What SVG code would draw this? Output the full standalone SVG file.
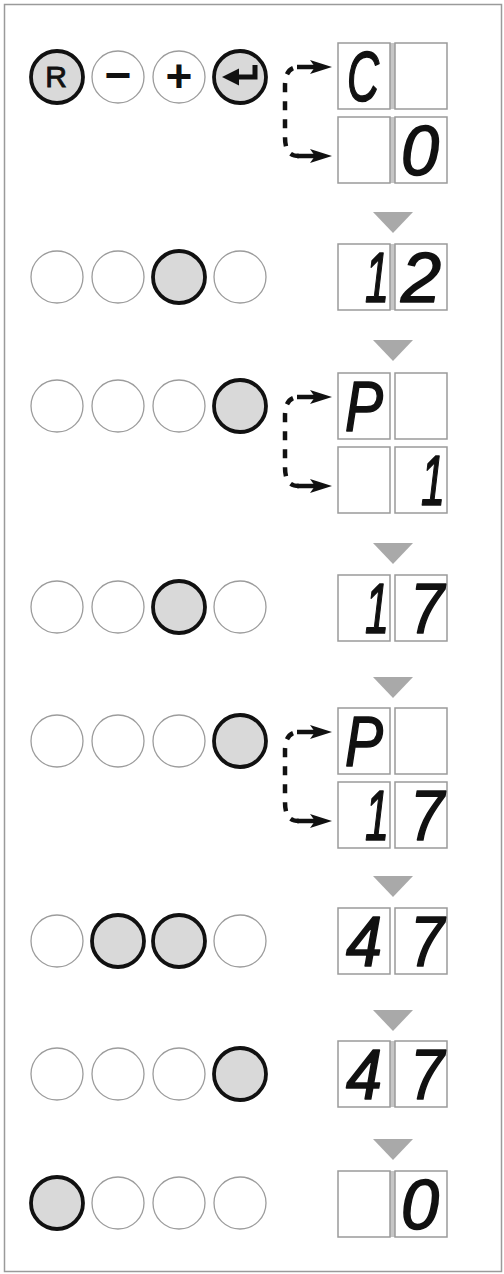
<svg xmlns="http://www.w3.org/2000/svg" width="504" height="1274" viewBox="0 0 504 1274">
<style>
.frame{fill:#fff;stroke:#9a9a9a;stroke-width:1.5}
.off{fill:#fff;stroke:#9c9c9c;stroke-width:1.3}
.on{fill:#d9d9d9;stroke:#111;stroke-width:3.8}
.box{fill:#fff;stroke:#9a9a9a;stroke-width:1.5}
.gap{fill:#c6c6c6}
.tri{fill:#a9a9a9}
.dig{font-family:"Liberation Sans",Arial,sans-serif;font-style:italic;font-size:70px;fill:#111;stroke:#111;stroke-width:1.6;stroke-linejoin:round;text-anchor:middle}
.sym{font-family:"Liberation Sans",Arial,sans-serif;fill:#111;text-anchor:middle;font-weight:bold}
.dash{fill:none;stroke:#111;stroke-width:4.5;stroke-dasharray:9 9;stroke-dashoffset:12}
.arr{fill:none;stroke:#111;stroke-width:4.5;marker-end:url(#ah)}
</style>
<defs>
<marker id="ah" markerUnits="userSpaceOnUse" viewBox="0 0 22 14" markerWidth="22" markerHeight="14" refX="6" refY="7" orient="auto">
<path d="M0 0 L22 7 L0 14 L5 7 Z" fill="#111"/>
</marker>
<polygon id="tr" class="tri" points="373,0 413,0 393,21"/>
</defs>
<rect class="frame" x="4.5" y="4.5" width="497" height="1267"/>

<g id="row1">
<circle class="on" cx="57" cy="77" r="26"/>
<circle class="off" cx="118" cy="77" r="26"/>
<circle class="off" cx="179" cy="77" r="26"/>
<circle class="on" cx="240" cy="77" r="26"/>
<text class="sym" x="56" y="87" style="font-size:30px;font-weight:normal;stroke:#111;stroke-width:0.9">R</text>
<text class="sym" x="118" y="91" style="font-size:46px">−</text>
<text class="sym" x="179" y="92" style="font-size:46px">+</text>
<path d="M255 65 V77 H236" fill="none" stroke="#111" stroke-width="5"/>
<polygon points="239,68.5 222,77 239,85.5" fill="#111"/>
</g>
<g id="disp1">
<rect class="gap" x="390" y="43" width="5" height="66"/>
<rect class="box" x="338" y="43" width="52" height="66"/>
<rect class="box" x="395" y="43" width="52" height="66"/>
<rect class="gap" x="390" y="117" width="5" height="66"/>
<rect class="box" x="338" y="117" width="52" height="66"/>
<rect class="box" x="395" y="117" width="52" height="66"/>
<text class="dig" x="363" y="101" textLength="32" lengthAdjust="spacingAndGlyphs">C</text>
<text class="dig" x="420" y="175" textLength="38" lengthAdjust="spacingAndGlyphs">0</text>
</g>

<use href="#tr" y="212"/>
<g id="row2">
<circle class="off" cx="57" cy="277" r="26"/>
<circle class="off" cx="118" cy="277" r="26"/>
<circle class="on" cx="179" cy="277" r="26"/>
<circle class="off" cx="240" cy="277" r="26"/>
</g>
<g id="disp2">
<rect class="gap" x="390" y="244" width="5" height="66"/>
<rect class="box" x="338" y="244" width="52" height="66"/>
<rect class="box" x="395" y="244" width="52" height="66"/>
<text class="dig" x="377" y="302" textLength="24" lengthAdjust="spacingAndGlyphs">1</text>
<text class="dig" x="421" y="302" textLength="40" lengthAdjust="spacingAndGlyphs">2</text>
</g>

<use href="#tr" y="340"/>
<g id="row3">
<circle class="off" cx="57" cy="406" r="26"/>
<circle class="off" cx="118" cy="406" r="26"/>
<circle class="off" cx="179" cy="406" r="26"/>
<circle class="on" cx="240" cy="406" r="26"/>
</g>
<g id="disp3">
<rect class="box" x="338" y="373" width="52" height="66"/>
<rect class="box" x="395" y="373" width="52" height="66"/>
<rect class="box" x="338" y="447" width="52" height="66"/>
<rect class="box" x="395" y="447" width="52" height="66"/>
<text class="dig" x="364" y="431" textLength="38" lengthAdjust="spacingAndGlyphs">P</text>
<text class="dig" x="433" y="505" textLength="24" lengthAdjust="spacingAndGlyphs">1</text>
</g>

<use href="#tr" y="543"/>
<g id="row4">
<circle class="off" cx="57" cy="607" r="26"/>
<circle class="off" cx="118" cy="607" r="26"/>
<circle class="on" cx="179" cy="607" r="26"/>
<circle class="off" cx="240" cy="607" r="26"/>
</g>
<g id="disp4">
<rect class="box" x="338" y="575" width="52" height="66"/>
<rect class="box" x="395" y="575" width="52" height="66"/>
<text class="dig" x="377" y="633" textLength="24" lengthAdjust="spacingAndGlyphs">1</text>
<text class="dig" x="427" y="633" textLength="34" lengthAdjust="spacingAndGlyphs">7</text>
</g>

<use href="#tr" y="677"/>
<g id="row5">
<circle class="off" cx="57" cy="741" r="26"/>
<circle class="off" cx="118" cy="741" r="26"/>
<circle class="off" cx="179" cy="741" r="26"/>
<circle class="on" cx="240" cy="741" r="26"/>
</g>
<g id="disp5">
<rect class="box" x="338" y="708" width="52" height="66"/>
<rect class="box" x="395" y="708" width="52" height="66"/>
<rect class="box" x="338" y="782" width="52" height="66"/>
<rect class="box" x="395" y="782" width="52" height="66"/>
<text class="dig" x="364" y="766" textLength="38" lengthAdjust="spacingAndGlyphs">P</text>
<text class="dig" x="377" y="840" textLength="24" lengthAdjust="spacingAndGlyphs">1</text>
<text class="dig" x="427" y="840" textLength="34" lengthAdjust="spacingAndGlyphs">7</text>
</g>

<use href="#tr" y="876"/>
<g id="row6">
<circle class="off" cx="57" cy="941" r="26"/>
<circle class="on" cx="118" cy="941" r="26"/>
<circle class="on" cx="179" cy="941" r="26"/>
<circle class="off" cx="240" cy="941" r="26"/>
</g>
<g id="disp6">
<rect class="box" x="338" y="908" width="52" height="66"/>
<rect class="box" x="395" y="908" width="52" height="66"/>
<text class="dig" x="364" y="966" textLength="36" lengthAdjust="spacingAndGlyphs">4</text>
<text class="dig" x="427" y="966" textLength="34" lengthAdjust="spacingAndGlyphs">7</text>
</g>

<use href="#tr" y="1010"/>
<g id="row7">
<circle class="off" cx="57" cy="1074" r="26"/>
<circle class="off" cx="118" cy="1074" r="26"/>
<circle class="off" cx="179" cy="1074" r="26"/>
<circle class="on" cx="240" cy="1074" r="26"/>
</g>
<g id="disp7">
<rect class="gap" x="390" y="1041" width="5" height="66"/>
<rect class="box" x="338" y="1041" width="52" height="66"/>
<rect class="box" x="395" y="1041" width="52" height="66"/>
<text class="dig" x="364" y="1099" textLength="36" lengthAdjust="spacingAndGlyphs">4</text>
<text class="dig" x="427" y="1099" textLength="34" lengthAdjust="spacingAndGlyphs">7</text>
</g>

<use href="#tr" y="1139"/>
<g id="row8">
<circle class="on" cx="57" cy="1203" r="26"/>
<circle class="off" cx="118" cy="1203" r="26"/>
<circle class="off" cx="179" cy="1203" r="26"/>
<circle class="off" cx="240" cy="1203" r="26"/>
</g>
<g id="disp8">
<rect class="gap" x="390" y="1171" width="5" height="66"/>
<rect class="box" x="338" y="1171" width="52" height="66"/>
<rect class="box" x="395" y="1171" width="52" height="66"/>
<text class="dig" x="420" y="1229" textLength="38" lengthAdjust="spacingAndGlyphs">0</text>
</g>

<g id="connectors">
<g transform="translate(0,67)">
<path class="dash" d="M299 0 C289 0 285 7 285 19 L285 70 C285 83 289 89 299 89"/>
<path class="arr" d="M297 0 H316"/>
<path class="arr" d="M297 89 H316"/>
</g>
<g transform="translate(0,397)">
<path class="dash" d="M299 0 C289 0 285 7 285 19 L285 70 C285 83 289 89 299 89"/>
<path class="arr" d="M297 0 H316"/>
<path class="arr" d="M297 89 H316"/>
</g>
<g transform="translate(0,732)">
<path class="dash" d="M299 0 C289 0 285 7 285 19 L285 70 C285 83 289 89 299 89"/>
<path class="arr" d="M297 0 H316"/>
<path class="arr" d="M297 89 H316"/>
</g>
</g>
</svg>
